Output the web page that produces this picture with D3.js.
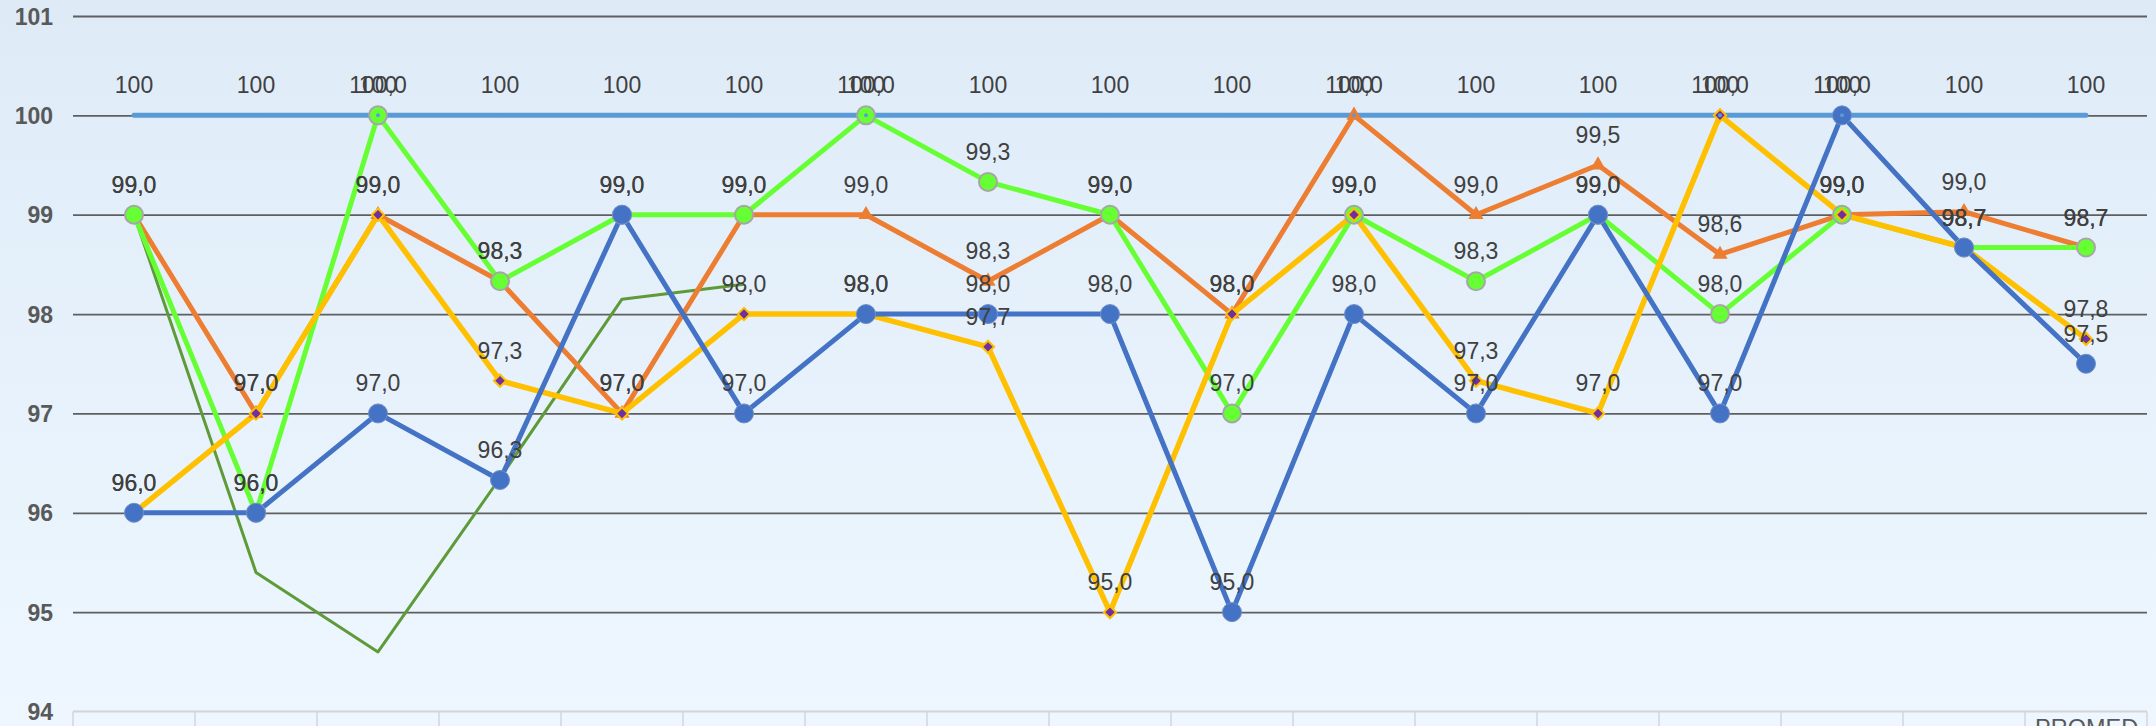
<!DOCTYPE html>
<html>
<head>
<meta charset="utf-8">
<script src="https://cdn.jsdelivr.net/npm/d3@7"></script>
<style>
  html, body { margin: 0; padding: 0; overflow: hidden; }
  body { width: 2156px; height: 726px; }
  svg { display: block; }
</style>
</head>
<body>
<svg id="chart" width="2156" height="726"></svg>
<script>
// ---------------- DATA ----------------
const categories = ["", "", "", "", "", "", "", "", "", "", "", "", "", "", "", "", "PROMEDIO"];
const yTicks = [94, 95, 96, 97, 98, 99, 100, 101];

const meta     = [100, 100, 100, 100, 100, 100, 100, 100, 100, 100, 100, 100, 100, 100, 100, 100, 100];
const serieVerde   = [99, 96, 100, 98.33, 99, 99, 100, 99.33, 99, 97, 99, 98.33, 99, 98, 99, 98.67, 98.67];
const serieNaranja = [99, 97, 99, 98.33, 97, 99, 99, 98.33, 99, 98, 100, 99, 99.5, 98.6, 99, 99.03, 98.67];
const serieAmarilla = [96, 97, 99, 97.33, 97, 98, 98, 97.67, 95, 98, 99, 97.33, 97, 100, 99, 98.67, 97.75];
const serieAzul    = [96, 96, 97, 96.33, 99, 97, 98, 98, 98, 95, 98, 97, 99, 97, 100, 98.67, 97.5];
const serieOliva   = [99, 95.4, 94.6, 96.35, 98.15, 98.3, null, null, null, null, null, null, null, null, null, null, null];

// ---------------- LAYOUT ----------------
const W = 2156, H = 726;
const plot = { left: 73, right: 2147, top: 16, bottom: 711.5 };

const svg = d3.select("#chart");
const defs = svg.append("defs");
const grad = defs.append("linearGradient").attr("id", "bg").attr("x1", 0).attr("y1", 0).attr("x2", 0).attr("y2", 1);
grad.append("stop").attr("offset", "0%").attr("stop-color", "#DEEBF7");
grad.append("stop").attr("offset", "100%").attr("stop-color", "#EEF7FF");
svg.append("rect").attr("width", W).attr("height", H).attr("fill", "url(#bg)");

const x = d3.scaleBand().domain(d3.range(categories.length)).range([plot.left, plot.right]).padding(0);
const cx = i => x(i) + x.bandwidth() / 2;
const y = d3.scaleLinear().domain([94, 101]).range([plot.bottom, plot.top]);

const font = "Arial, 'Liberation Sans', Helvetica, sans-serif";

// Gridlines (95..101)
const yAxis = d3.axisLeft(y).tickValues(yTicks).tickSize(-(plot.right - plot.left)).tickFormat(d3.format("d")).tickPadding(20);
const gy = svg.append("g").attr("transform", `translate(${plot.left},0)`).call(yAxis);
gy.select(".domain").remove();
gy.selectAll(".tick line")
  .attr("stroke", d => d === 94 ? "none" : "#5f5f5f")
  .attr("stroke-width", 1.8);
gy.selectAll(".tick text")
  .attr("fill", "#595959")
  .attr("font-family", font)
  .attr("font-weight", "bold")
  .attr("font-size", "23px")
  .attr("x", 53 - plot.left)
  .attr("dy", "0.35em");

// X axis (light gray) with band separators
const gx = svg.append("g").attr("transform", `translate(0,${plot.bottom})`);
gx.append("line").attr("x1", plot.left).attr("x2", plot.right).attr("y1", 0).attr("y2", 0)
  .attr("stroke", "#d4d4d4").attr("stroke-width", 2);
const seps = d3.range(categories.length + 1).map(i => i < categories.length ? x(i) : plot.right);
gx.selectAll("line.sep").data(seps).join("line").attr("class", "sep")
  .attr("x1", d => d).attr("x2", d => d).attr("y1", 0).attr("y2", 30)
  .attr("stroke", "#d4d4d4").attr("stroke-width", 1.5);
categories.forEach((c, i) => {
  if (!c) return;
  const clipId = "clipcat" + i;
  defs.append("clipPath").attr("id", clipId).append("rect")
    .attr("x", x(i)).attr("y", plot.bottom).attr("width", x.bandwidth() - 8).attr("height", 40);
  gx.append("text")
    .attr("clip-path", `url(#${clipId})`)
    .attr("transform", `translate(0,${-plot.bottom})`)
    .attr("x", x(i) + 10).attr("y", plot.bottom + 24)
    .attr("fill", "#595959").attr("font-family", font).attr("font-size", "23.5px")
    .text(c);
});

// ---------------- SERIES ----------------
const fmt1 = d => d3.format(".1f")(d).replace(".", ",");
const series = [
  { name: "meta",     data: meta,          color: "#5B9BD5", width: 5,   label: d3.format("d") },
  { name: "oliva",    data: serieOliva,    color: "#5E9B38", width: 3,   label: null },
  { name: "naranja",  data: serieNaranja,  color: "#ED7D31", width: 5,   label: fmt1 },
  { name: "verde",    data: serieVerde,    color: "#66FF33", width: 5,   label: fmt1 },
  { name: "amarilla", data: serieAmarilla, color: "#FFC000", width: 5.5, label: fmt1 },
  { name: "azul",     data: serieAzul,     color: "#4472C4", width: 5,   label: fmt1 }
];

const line = d3.line().defined(d => d != null).x((d, i) => cx(i)).y(d => y(d));

const gLines = svg.append("g");
series.forEach(s => {
  gLines.append("path").datum(s.data)
    .attr("d", line)
    .attr("fill", "none")
    .attr("stroke", s.color)
    .attr("stroke-width", s.width)
    .attr("stroke-linejoin", "round")
    .attr("stroke-linecap", s.name === "meta" ? "round" : "butt");
});

// Markers: orange triangles, green circles, yellow diamonds, blue circles, meta tiny dots
const gMarks = svg.append("g");
const pts = arr => arr.map((v, i) => ({ v, i })).filter(d => d.v != null);

gMarks.append("g").selectAll("path").data(pts(serieNaranja)).join("path")
  .attr("d", d3.symbol().type(d3.symbolTriangle).size(100))
  .attr("transform", d => `translate(${cx(d.i)},${y(d.v)})`)
  .attr("fill", "#ED7D31");

gMarks.append("g").selectAll("circle").data(pts(serieVerde)).join("circle")
  .attr("cx", d => cx(d.i)).attr("cy", d => y(d.v)).attr("r", 9)
  .attr("fill", "#66FF33").attr("stroke", "#A6A6A6").attr("stroke-width", 2);

gMarks.append("g").selectAll("path").data(pts(serieAmarilla)).join("path")
  .attr("d", d3.symbol().type(d3.symbolSquare).size(75))
  .attr("transform", d => `translate(${cx(d.i)},${y(d.v)}) rotate(45)`)
  .attr("fill", "#7030A0").attr("stroke", "#FFC000").attr("stroke-width", 2);

gMarks.append("g").selectAll("circle").data(pts(serieAzul)).join("circle")
  .attr("cx", d => cx(d.i)).attr("cy", d => y(d.v)).attr("r", 9.5)
  .attr("fill", "#4472C4").attr("stroke", "#6f8fc8").attr("stroke-width", 1);

gMarks.append("g").selectAll("circle").data(pts(meta)).join("circle")
  .attr("cx", d => cx(d.i)).attr("cy", d => y(d.v)).attr("r", 2)
  .attr("fill", "#5B9BD5");

// Data labels
const gLabels = svg.append("g")
  .attr("font-family", font).attr("font-size", "23px").attr("fill", "#404040").attr("text-anchor", "middle");
series.forEach(s => {
  if (!s.label) return;
  gLabels.append("g").selectAll("text").data(pts(s.data)).join("text")
    .attr("x", d => cx(d.i)).attr("y", d => y(d.v) - 22)
    .text(d => s.label(d.v));
});
</script>
</body>
</html>
